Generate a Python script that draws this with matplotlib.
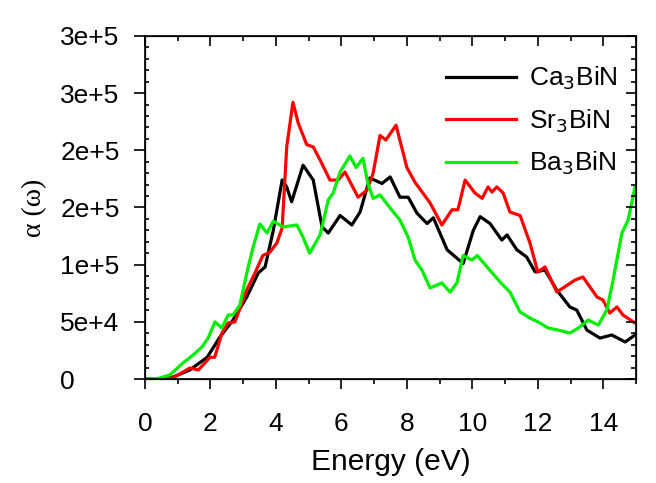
import matplotlib.pyplot as plt
from matplotlib.ticker import MultipleLocator

# Datos
e_ca = [0, 0.5, 0.86, 1.37, 1.9, 2.29, 2.69, 3.11, 3.46, 3.67, 3.92, 4.19, 4.33, 4.48, 4.83,
        5.14, 5.41, 5.6, 5.96, 6.32, 6.57, 6.87, 7.24, 7.49, 7.79, 8.04, 8.31, 8.62, 8.81,
        9.23, 9.72, 10.03, 10.24, 10.54, 10.9, 11.06, 11.36, 11.66, 11.92, 12.22, 12.58,
        12.98, 13.19, 13.5, 13.9, 14.26, 14.67, 14.97]
a_ca = [0, 300, 1700, 7900, 19000, 36700, 51600, 71700, 92700, 98000, 130000, 174000, 168000,
        155000, 187000, 174000, 133000, 127700, 143000, 134700, 146000, 175800, 171000, 176700,
        159000, 159000, 145000, 136000, 141000, 113000, 101000, 130000, 142000, 136000, 121500,
        126000, 113000, 106700, 93600, 95300, 77800, 63000, 60300, 42800, 35800, 38500, 32400,
        38500]

e_sr = [0, 0.6, 0.86, 1.37, 1.63, 1.99, 2.13, 2.35, 2.54, 2.75, 3.11, 3.36, 3.6, 3.82, 4.03,
        4.19, 4.33, 4.52, 4.68, 4.94, 5.14, 5.35, 5.65, 5.9, 6.11, 6.51, 6.78, 6.97, 7.18,
        7.36, 7.67, 8.0, 8.25, 8.71, 9.07, 9.38, 9.56, 9.78, 10.08, 10.3, 10.48, 10.6, 10.75,
        10.94, 11.15, 11.46, 11.76, 12.0, 12.22, 12.58, 12.77, 13.14, 13.38, 13.81, 13.99,
        14.2, 14.42, 14.6, 14.97]
a_sr = [0, 200, 1000, 9600, 7900, 19000, 19000, 40000, 49000, 50000, 78000, 92700, 108000,
        111000, 119000, 132000, 203000, 242000, 224000, 205000, 203000, 191500, 174000, 174000,
        181000, 159000, 165000, 180000, 213000, 209000, 222000, 185000, 172000, 154000, 134700,
        148000, 148000, 174000, 162700, 158000, 168000, 163500, 168000, 162700, 146000, 143000,
        119000, 93600, 98000, 76100, 79600, 86600, 89200, 71700, 69100, 57700, 63000, 56000,
        49000]

e_ba = [0, 0.4, 0.76, 1.16, 1.47, 1.74, 1.93, 2.14, 2.35, 2.54, 2.69, 2.9, 3.11, 3.3, 3.51,
        3.73, 3.92, 4.22, 4.64, 4.83, 5.03, 5.35, 5.6, 5.75, 5.96, 6.26, 6.45, 6.66, 6.81,
        6.97, 7.18, 7.49, 7.79, 8.04, 8.25, 8.46, 8.71, 9.07, 9.32, 9.53, 9.72, 9.99, 10.15,
        10.45, 10.85, 11.15, 11.46, 11.76, 12.07, 12.31, 12.62, 12.98, 13.24, 13.54, 13.85,
        14.11, 14.3, 14.57, 14.76, 14.97]
a_ba = [0, 500, 3500, 14000, 21000, 28000, 35900, 49900, 44600, 56000, 56000, 64700, 92700,
        115000, 135600, 127700, 138000, 133000, 134700, 124000, 110000, 126000, 156600, 162700,
        181000, 195000, 185000, 193000, 171000, 158000, 161000, 149600, 139000, 124000, 104000,
        95300, 79600, 84000, 76000, 84000, 108000, 104000, 108000, 98000, 84800, 76000, 58600,
        53300, 49000, 44600, 42800, 40200, 44600, 51600, 47200, 60300, 86600, 127700, 139000,
        168000]

y_ticks = [0, 50000, 100000, 150000, 200000, 250000, 300000]
y_labels = ['0', '5e+4', '1e+5', '2e+5', '2e+5', '3e+5', '3e+5']

plt.rcParams['font.family'] = ['Liberation Sans', 'DejaVu Sans']

fig = plt.figure(figsize=(6.56, 4.83), dpi=100)
ax = fig.add_axes([0.221, 0.2153, 0.7485, 0.7102])

lw = 2.3
ax.plot(e_ca, a_ca, color='black', lw=lw, label='Ca$_3$BiN')
ax.plot(e_sr, a_sr, color='#ff0000', lw=lw, label='Sr$_3$BiN')
ax.plot(e_ba, a_ba, color='#00ee00', lw=lw, label='Ba$_3$BiN')

ax.set_xlim(0, 15)
ax.set_ylim(0, 300000)
ax.xaxis.set_major_locator(MultipleLocator(2))
ax.xaxis.set_minor_locator(MultipleLocator(1))
ax.set_yticks(y_ticks)
ax.set_yticklabels(y_labels)
ax.yaxis.set_minor_locator(MultipleLocator(10000))

for s in ax.spines.values():
    s.set_linewidth(1.2)

ax.tick_params(axis='x', which='major', direction='out', length=7, width=1.2, labelsize=19, pad=17)
ax.tick_params(axis='x', which='minor', direction='out', length=3.5, width=1.2)
ax.tick_params(axis='y', which='major', direction='out', length=8, width=1.2, labelsize=19, pad=53)
ax.tick_params(axis='y', which='minor', direction='in', length=3, width=1.2)
for lab in ax.get_yticklabels():
    lab.set_horizontalalignment('left')

# ticks hacia dentro arriba y a la derecha
ax_top = ax.twiny()
ax_top.set_xlim(ax.get_xlim())
ax_top.xaxis.set_major_locator(MultipleLocator(2))
ax_top.xaxis.set_minor_locator(MultipleLocator(1))
ax_top.tick_params(axis='x', which='major', direction='in', length=7, width=1.2, labeltop=False)
ax_top.tick_params(axis='x', which='minor', direction='in', length=3.5, width=1.2)
ax_right = ax.twinx()
ax_right.set_ylim(ax.get_ylim())
ax_right.set_yticks(y_ticks)
ax_right.yaxis.set_minor_locator(MultipleLocator(10000))
ax_right.tick_params(axis='y', which='major', direction='in', length=7, width=1.2, labelright=False)
ax_right.tick_params(axis='y', which='minor', direction='in', length=3.5, width=1.2)

ax.set_xlabel('Energy (eV)', fontsize=21.5)
ax.xaxis.set_label_coords(0.5, -0.2)
ax.set_ylabel('α (ω)', fontsize=20, family=['Liberation Serif', 'DejaVu Serif'])
ax.yaxis.set_label_coords(-0.2, 0.5)

ax.legend(loc='upper left', bbox_to_anchor=(0.565, 0.985), frameon=False, fontsize=19,
          handlelength=2.65, handletextpad=0.5, labelspacing=0.57)

plt.savefig('out.png', dpi=100)
plt.close(fig)
